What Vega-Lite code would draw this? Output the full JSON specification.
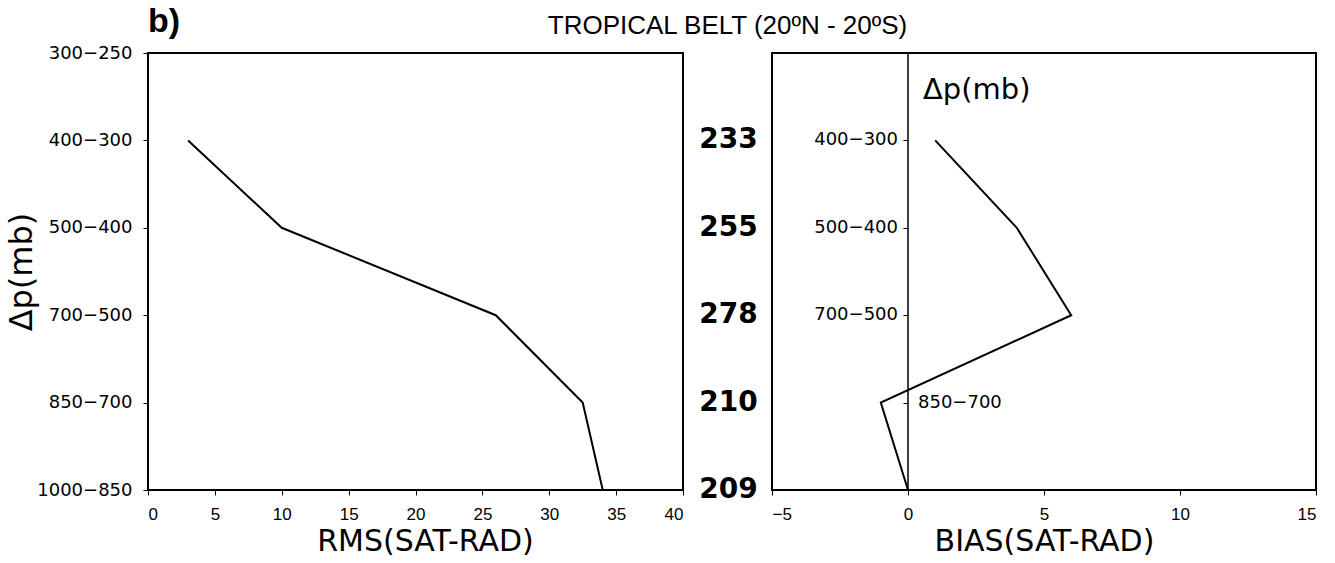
{
  "$schema": "https://vega.github.io/schema/vega-lite/v6.json",
  "background": "white",
  "padding": {"left": 4, "top": 4, "right": 18, "bottom": 5},
  "bounds": "flush",
  "spacing": 0,
  "config": {
    "view": {"stroke": "black", "strokeWidth": 2},
    "font": "DejaVu Sans",
    "axis": {"grid": false, "domain": false, "tickColor": "black", "labelColor": "black", "titleColor": "black", "titleFontWeight": "normal"}
  },
  "datasets": {
    "levels": [
      {"k": 1, "dp": "400−300", "rms": 3, "bias": 1, "n": "233"},
      {"k": 2, "dp": "500−400", "rms": 10, "bias": 4, "n": "255"},
      {"k": 3, "dp": "700−500", "rms": 26, "bias": 6, "n": "278"},
      {"k": 4, "dp": "850−700", "rms": 32.5, "bias": -1, "n": "210"},
      {"k": 5, "dp": "1000−850", "rms": 34, "bias": 0, "n": "209"}
    ],
    "one": [{"label": "Δp(mb)", "top": "300−250", "zero": 0}]
  },
  "hconcat": [
    {
      "width": 535,
      "height": 437,
      "title": {"text": "b)", "anchor": "start", "frame": "group", "font": "Liberation Sans", "fontSize": 34, "fontWeight": "bold", "offset": 5, "color": "black"},
      "data": {"name": "levels"},
      "mark": {"type": "line", "color": "black", "strokeWidth": 2},
      "encoding": {
        "x": {"field": "rms", "type": "quantitative",
          "scale": {"domain": [0, 40], "nice": false, "zero": false},
          "axis": {"values": [0, 5, 10, 15, 20, 25, 30, 35, 40], "title": "RMS(SAT-RAD)", "titleFont": "DejaVu Sans", "titleFontSize": 30, "labelFont": "Liberation Sans", "labelFontSize": 17, "tickSize": 5, "labelPadding": 11, "titlePadding": 4, "titleX": 277}},
        "y": {"field": "dp", "type": "ordinal",
          "scale": {"type": "point", "domain": ["300−250", "400−300", "500−400", "700−500", "850−700", "1000−850"], "padding": 0},
          "axis": {"title": "Δp(mb)", "titleFontSize": 32, "labelFontSize": 18, "tickSize": 5, "labelPadding": 11, "titlePadding": -2}},
        "order": {"field": "k", "type": "quantitative"}
      }
    },
    {
      "width": 89,
      "height": 437,
      "view": {"stroke": null},
      "title": {"text": "TROPICAL BELT (20ºN - 20ºS)", "anchor": "middle", "frame": "group", "font": "Liberation Sans", "fontSize": 26, "fontWeight": "normal", "offset": 14, "dx": 0, "color": "black"},
      "data": {"name": "levels"},
      "mark": {"type": "text", "font": "DejaVu Sans", "fontSize": 28, "fontWeight": "bold", "dx": 1, "baseline": "middle", "color": "black"},
      "encoding": {
        "y": {"field": "dp", "type": "ordinal",
          "scale": {"type": "point", "domain": ["300−250", "400−300", "500−400", "700−500", "850−700", "1000−850"], "padding": 0},
          "axis": null},
        "text": {"field": "n"}
      }
    },
    {
      "width": 544,
      "height": 437,
      "layer": [
        {
          "data": {"name": "one"},
          "mark": {"type": "rule", "color": "black", "strokeWidth": 1.5},
          "encoding": {
            "x": {"field": "zero", "type": "quantitative",
              "scale": {"domain": [-5, 15], "nice": false, "zero": false},
              "axis": {"values": [-5, 0, 5, 10, 15], "title": "BIAS(SAT-RAD)", "titleFont": "DejaVu Sans", "titleFontSize": 30, "labelFont": "Liberation Sans", "labelFontSize": 17, "tickSize": 5, "labelPadding": 11, "titlePadding": 4}}
          }
        },
        {
          "data": {"name": "levels"},
          "mark": {"type": "line", "color": "black", "strokeWidth": 2},
          "encoding": {
            "x": {"field": "bias", "type": "quantitative",
              "scale": {"domain": [-5, 15], "nice": false, "zero": false},
              "axis": {"values": [-5, 0, 5, 10, 15], "title": "BIAS(SAT-RAD)", "titleFont": "DejaVu Sans", "titleFontSize": 30, "labelFont": "Liberation Sans", "labelFontSize": 17, "tickSize": 5, "labelPadding": 11, "titlePadding": 4}},
            "y": {"field": "dp", "type": "ordinal",
              "scale": {"type": "point", "domain": ["300−250", "400−300", "500−400", "700−500", "850−700", "1000−850"], "padding": 0},
              "axis": {"title": null, "labels": false, "tickSize": 5, "offset": -136, "values": ["400−300", "500−400", "700−500", "850−700"]}},
            "order": {"field": "k", "type": "quantitative"}
          }
        },
        {
          "data": {"name": "levels"},
          "transform": [{"filter": "datum.k <= 3"}],
          "mark": {"type": "text", "align": "right", "baseline": "middle", "dx": -10, "fontSize": 18, "color": "black"},
          "encoding": {
            "x": {"datum": 0, "type": "quantitative"},
            "y": {"field": "dp", "type": "ordinal",
              "axis": {"title": null, "labels": false, "tickSize": 5, "offset": -136, "values": ["400−300", "500−400", "700−500", "850−700"]}},
            "text": {"field": "dp"}
          }
        },
        {
          "data": {"name": "levels"},
          "transform": [{"filter": "datum.k === 4"}],
          "mark": {"type": "text", "align": "left", "baseline": "middle", "dx": 10, "fontSize": 18, "color": "black"},
          "encoding": {
            "x": {"datum": 0, "type": "quantitative"},
            "y": {"field": "dp", "type": "ordinal",
              "axis": {"title": null, "labels": false, "tickSize": 5, "offset": -136, "values": ["400−300", "500−400", "700−500", "850−700"]}},
            "text": {"field": "dp"}
          }
        },
        {
          "data": {"name": "one"},
          "mark": {"type": "text", "align": "left", "baseline": "middle", "dx": 15, "dy": 37, "fontSize": 29, "color": "black"},
          "encoding": {
            "x": {"field": "zero", "type": "quantitative"},
            "y": {"field": "top", "type": "ordinal",
              "axis": {"title": null, "labels": false, "tickSize": 5, "offset": -136, "values": ["400−300", "500−400", "700−500", "850−700"]}},
            "text": {"field": "label"}
          }
        }
      ]
    }
  ]
}
